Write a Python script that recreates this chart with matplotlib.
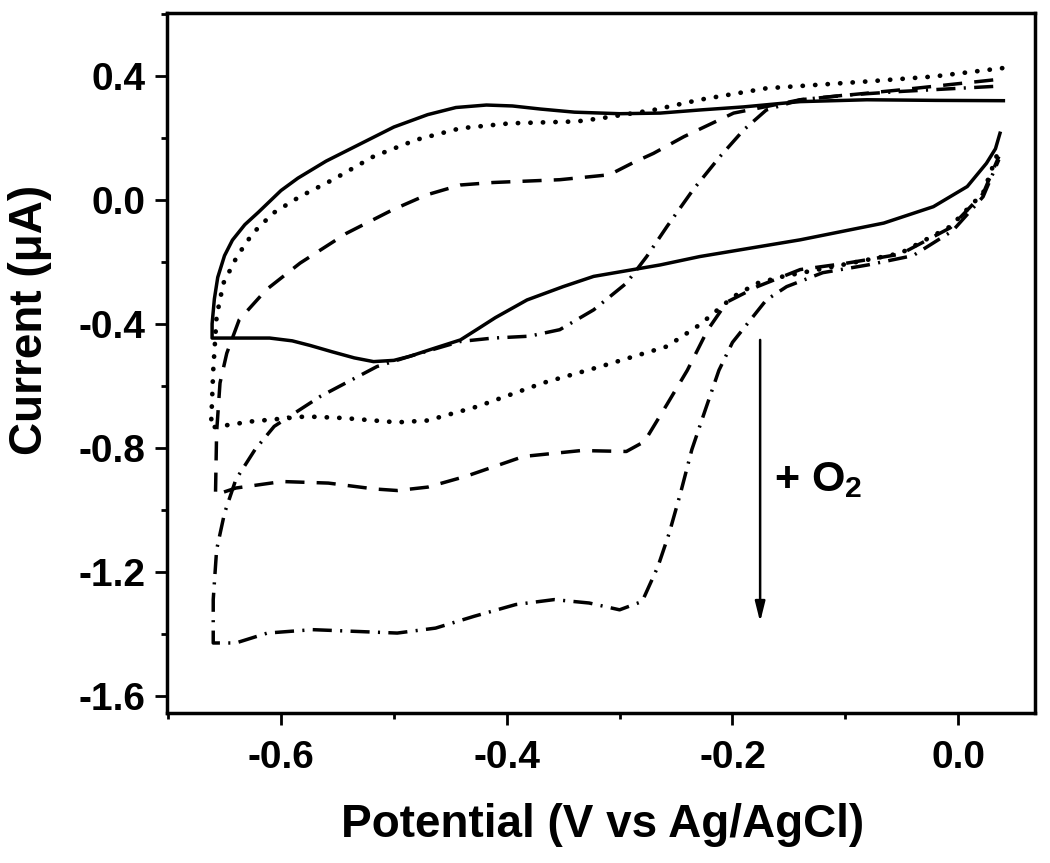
import matplotlib
matplotlib.use('Agg')
import matplotlib.pyplot as plt
from matplotlib.ticker import MultipleLocator, FormatStrFormatter

plt.rcParams['font.family'] = ['Liberation Sans', 'DejaVu Sans']
plt.rcParams['font.weight'] = 'bold'
plt.rcParams['mathtext.fontset'] = 'custom'
plt.rcParams['mathtext.bf'] = 'Liberation Sans:bold'
plt.rcParams['mathtext.rm'] = 'Liberation Sans:bold'
plt.rcParams['mathtext.default'] = 'bf'

# values (potential in V, current in uA)
solid_v = [0.040, -0.020, -0.081, -0.140, -0.190, -0.229, -0.264, -0.300, -0.340, -0.370,
           -0.395, -0.418, -0.445, -0.470, -0.500, -0.530, -0.560, -0.585, -0.600, -0.620,
           -0.632, -0.643, -0.650, -0.656, -0.659, -0.661, -0.661, -0.610, -0.590, -0.574,
           -0.555, -0.535, -0.518, -0.500, -0.486, -0.465, -0.441, -0.425, -0.410, -0.382,
           -0.350, -0.323, -0.264, -0.229, -0.140, -0.066, -0.022, 0.008, 0.025, 0.033,
           0.037]
solid_i = [0.320, 0.321, 0.323, 0.317, 0.300, 0.290, 0.280, 0.278, 0.283, 0.293,
           0.303, 0.306, 0.298, 0.275, 0.235, 0.180, 0.125, 0.070, 0.030, -0.040,
           -0.080, -0.130, -0.180, -0.250, -0.320, -0.400, -0.446, -0.446, -0.455, -0.470,
           -0.490, -0.510, -0.522, -0.518, -0.505, -0.480, -0.452, -0.415, -0.380, -0.323,
           -0.280, -0.247, -0.210, -0.183, -0.129, -0.075, -0.022, 0.043, 0.118, 0.165,
           0.215]

dot_v = [0.039, -0.022, -0.081, -0.170, -0.229, -0.270, -0.317, -0.338, -0.397, -0.441,
         -0.480, -0.518, -0.554, -0.583, -0.607, -0.625, -0.639, -0.651, -0.657, -0.660,
         -0.662, -0.626, -0.578, -0.545, -0.497, -0.470, -0.426, -0.368, -0.317, -0.258,
         -0.229, -0.199, -0.178, -0.155, -0.110, -0.051, -0.007, 0.022, 0.036]
dot_i = [0.425, 0.398, 0.382, 0.360, 0.323, 0.290, 0.263, 0.253, 0.247, 0.231,
         0.194, 0.140, 0.065, 0.011, -0.043, -0.108, -0.183, -0.269, -0.376, -0.550,
         -0.735, -0.715, -0.699, -0.704, -0.718, -0.712, -0.667, -0.591, -0.538, -0.473,
         -0.403, -0.312, -0.269, -0.247, -0.215, -0.172, -0.086, 0.022, 0.161]

dash_v = [0.031, -0.051, -0.140, -0.199, -0.243, -0.270, -0.288, -0.309, -0.353, -0.412,
          -0.441, -0.471, -0.501, -0.542, -0.583, -0.613, -0.637, -0.648, -0.654, -0.657,
          -0.658, -0.640, -0.599, -0.558, -0.517, -0.497, -0.470, -0.436, -0.385, -0.334,
          -0.294, -0.278, -0.258, -0.240, -0.222, -0.205, -0.178, -0.140, -0.100, -0.051,
          -0.007, 0.022, 0.036]
dash_i = [0.387, 0.355, 0.323, 0.280, 0.204, 0.150, 0.120, 0.081, 0.065, 0.056,
          0.048, 0.016, -0.032, -0.108, -0.204, -0.290, -0.387, -0.495, -0.591, -0.750,
          -0.952, -0.930, -0.909, -0.914, -0.933, -0.938, -0.927, -0.892, -0.828, -0.809,
          -0.812, -0.780, -0.660, -0.550, -0.420, -0.330, -0.280, -0.225, -0.205, -0.175,
          -0.090, 0.020, 0.140]

dd_v = [0.031, -0.050, -0.100, -0.140, -0.170, -0.190, -0.211, -0.235, -0.258, -0.276,
        -0.294, -0.323, -0.353, -0.380, -0.412, -0.441, -0.486, -0.515, -0.565, -0.606,
        -0.623, -0.640, -0.650, -0.657, -0.660, -0.660, -0.640, -0.612, -0.572, -0.531,
        -0.497, -0.463, -0.429, -0.392, -0.358, -0.327, -0.300, -0.280, -0.266, -0.256,
        -0.246, -0.236, -0.224, -0.212, -0.200, -0.184, -0.170, -0.152, -0.120, -0.080,
        -0.040, -0.005, 0.022, 0.036]
dd_i = [0.366, 0.350, 0.338, 0.323, 0.290, 0.226, 0.140, 0.032, -0.086, -0.183,
        -0.269, -0.355, -0.419, -0.440, -0.446, -0.457, -0.505, -0.538, -0.634, -0.731,
        -0.806, -0.903, -1.011, -1.129, -1.290, -1.430, -1.430, -1.398, -1.387, -1.393,
        -1.398, -1.382, -1.344, -1.306, -1.290, -1.301, -1.323, -1.296, -1.183, -1.075,
        -0.946, -0.806, -0.677, -0.550, -0.460, -0.387, -0.323, -0.280, -0.235, -0.210,
        -0.180, -0.100, 0.010, 0.130]

fig = plt.figure(figsize=(10.5, 8.63), dpi=100)
ax = fig.add_axes([0.159, 0.1738, 0.8267, 0.8115])

lw = 2.5
ax.plot(solid_v, solid_i, color='k', lw=lw, solid_joinstyle='round')
ax.plot(dot_v, dot_i, color='k', lw=3.4, linestyle=(0, (0.05, 2.6)),
        dash_capstyle='round')
ax.plot(dash_v, dash_i, color='k', lw=lw, linestyle=(0, (5.5, 3.5)))
ax.plot(dd_v, dd_i, color='k', lw=lw, linestyle=(0, (5.5, 2.4, 0.6, 2.4)))

# arrow for O2 addition
ax.annotate('', xy=(-0.1755, -1.362), xytext=(-0.1755, -0.452),
            arrowprops=dict(arrowstyle='-|>,head_length=1.2,head_width=0.3',
                            color='k', lw=1.8, shrinkA=0, shrinkB=0))
ax.text(-0.163, -0.905, '+ O$_2$', fontsize=31, fontweight='bold', va='center', ha='left')

ax.set_xlim(-0.701, 0.068)
ax.set_ylim(-1.656, 0.604)
ax.xaxis.set_major_locator(MultipleLocator(0.2))
ax.xaxis.set_minor_locator(MultipleLocator(0.1))
ax.yaxis.set_major_locator(MultipleLocator(0.4))
ax.yaxis.set_minor_locator(MultipleLocator(0.2))
ax.xaxis.set_major_formatter(FormatStrFormatter('%.1f'))
ax.yaxis.set_major_formatter(FormatStrFormatter('%.1f'))

for s in ax.spines.values():
    s.set_linewidth(2.5)
ax.tick_params(which='major', direction='out', length=8.5, width=2.0,
               labelsize=28, pad=7)
ax.tick_params(axis='x', which='major', pad=11)
ax.tick_params(which='minor', direction='out', length=4.5, width=2.0)
for lab in ax.get_xticklabels() + ax.get_yticklabels():
    lab.set_fontweight('bold')

ax.set_xlabel('Potential (V vs Ag/AgCl)', fontsize=33, fontweight='bold')
ax.set_ylabel('Current (μA)', fontsize=33, fontweight='bold')
ax.xaxis.set_label_coords(0.502, -0.16)
ax.xaxis.label.set_va('center')
ax.yaxis.set_label_coords(-0.158, 0.561)
ax.yaxis.label.set_va('center')

fig.savefig('out.png', dpi=100)
